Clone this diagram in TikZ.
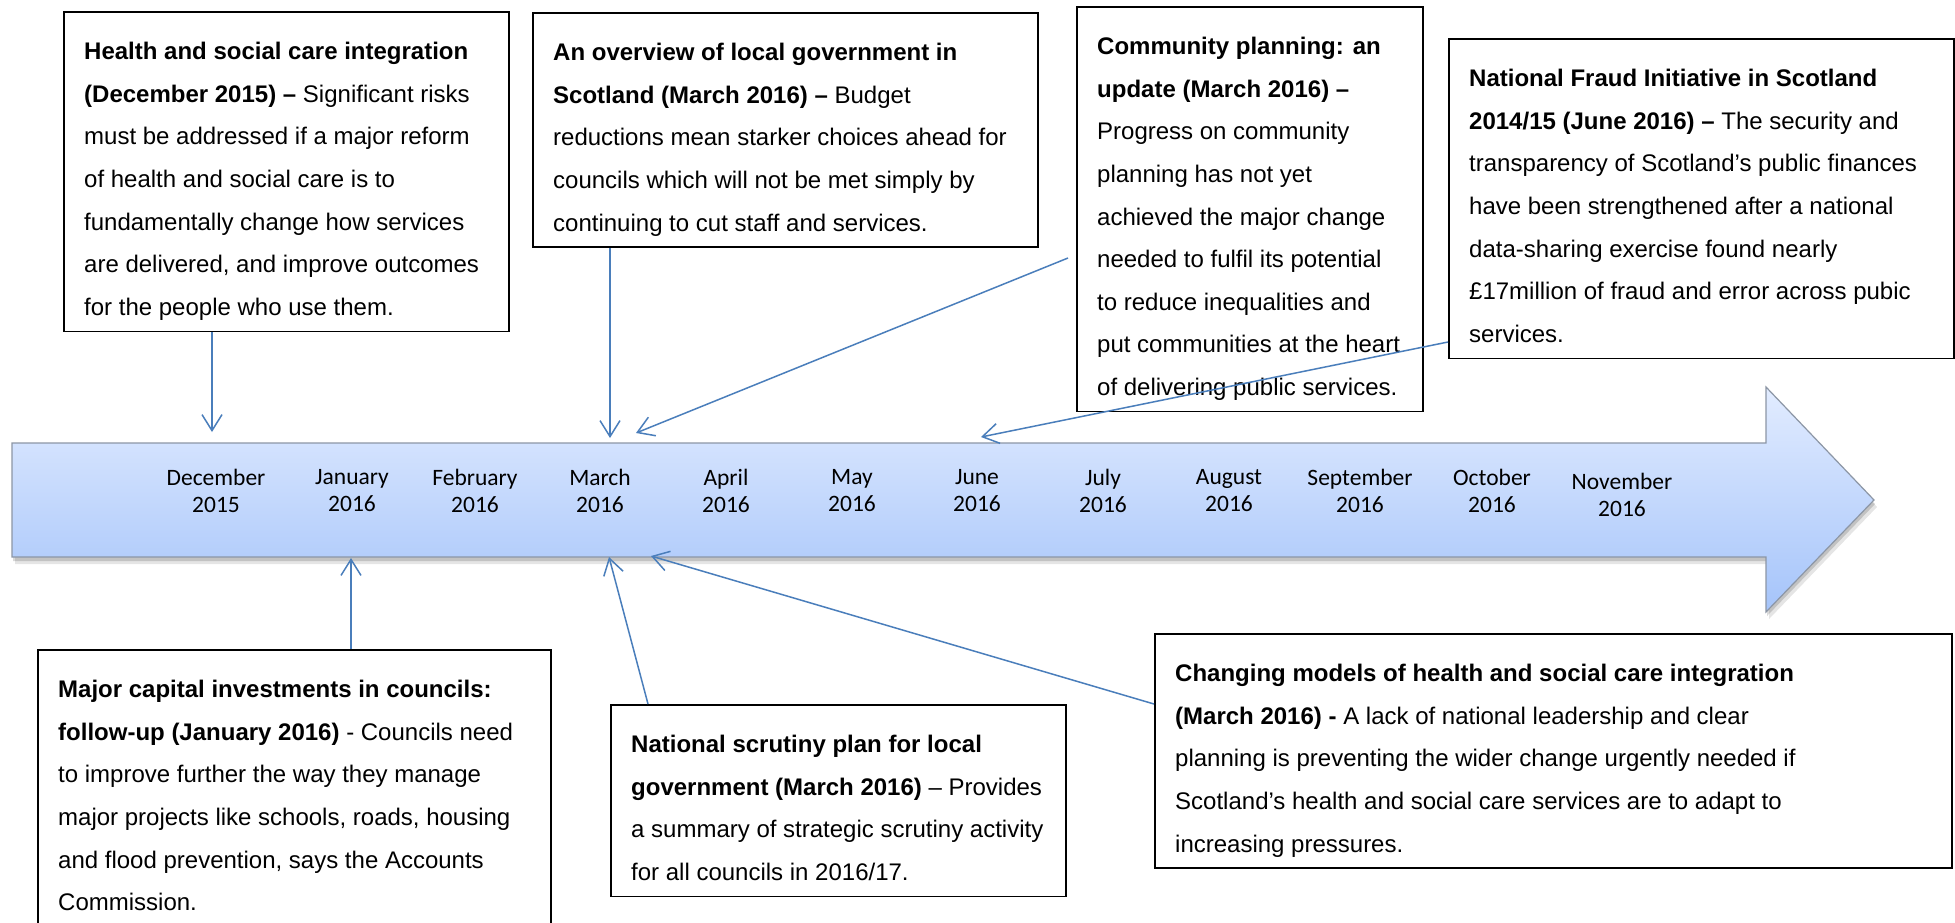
\documentclass[tikz,border=0pt]{standalone}
\usepackage{fontspec}
\setmainfont{Liberation Sans}
\newfontfamily\monthfont{Carlito}
\usetikzlibrary{arrows.meta,calc}
\definecolor{connblue}{RGB}{74,126,187}
\definecolor{arrtop}{RGB}{226,236,255}
\definecolor{arrbot}{RGB}{165,196,250}
\definecolor{arrborder}{RGB}{140,150,165}
\def\arrowpath{(12,443) -- (1766,443) -- (1766,387) -- (1874,500) -- (1766,612) -- (1766,557) -- (12,557) -- cycle}
\begin{document}
\begin{tikzpicture}[x=1pt,y=-1pt,
 tbox/.style={draw=black, line width=1.6pt, fill=white, inner sep=0pt, anchor=north west},
 ttext/.style={anchor=north west, inner sep=0pt, align=left, font=\fontsize{24}{42.6}\selectfont},
 month/.style={align=center, inner sep=0pt, font=\monthfont\fontsize{23.5}{27}\selectfont},
 conn/.style={draw=connblue, line width=1.5pt, -{Straight Barb[length=16pt,width=20pt]}}]

\useasboundingbox (0,0) rectangle (1955,922);
\fill[white] (0,0) rectangle (1955,922);
\clip (0,0) rectangle (1955,922);

% timeline arrow with soft shadow
\fill[black, opacity=0.10, shift={(3,7)}] \arrowpath;
\fill[black, opacity=0.15, shift={(1,4)}] \arrowpath;
\path[draw=arrborder, line width=1.2pt, top color=arrtop, bottom color=arrbot] \arrowpath;

% months
\node[month] (m1) at (216,491) {December\\2015};
\node[month] (m2) at (352,491) {January\\2016};
\node[month] (m3) at (475,491) {February\\2016};
\node[month] (m4) at (600,491) {March\\2016};
\node[month] (m5) at (726,491) {April\\2016};
\node[month] (m6) at (852,491) {May\\2016};
\node[month] (m7) at (977,491) {June\\2016};
\node[month] (m8) at (1103,491) {July\\2016};
\node[month] (m9) at (1229,491) {August\\2016};
\node[month] (m10) at (1360,491) {September\\2016};
\node[month] (m11) at (1492,491) {October\\2016};
\node[month] (m12) at (1622,495) {November\\2016};

% boxes
\node[tbox, minimum width=445, minimum height=319.6] (b1) at (63,11) {};
\node[ttext] (t1) at ($(b1.north west)+(21,30.5)$) {\rule{0pt}{18pt}\textbf{Health and social care integration}\\
\textbf{(December 2015) –} Significant risks\\
must be addressed if a major reform\\
of health and social care is to\\
fundamentally change how services\\
are delivered, and improve outcomes\\
for the people who use them.};

\node[tbox, minimum width=505, minimum height=234.4] (b2) at (532,12) {};
\node[ttext] (t2) at ($(b2.north west)+(21,30.5)$) {\rule{0pt}{18pt}\textbf{An overview of local government in}\\
\textbf{Scotland (March 2016) –} Budget\\
reductions mean starker choices ahead for\\
councils which will not be met simply by\\
continuing to cut staff and services.};

\node[tbox, minimum width=346, minimum height=404.8] (b3) at (1076,6) {};
\node[ttext] (t3) at ($(b3.north west)+(21,30.5)$) {\rule{0pt}{18pt}\textbf{Community planning: an}\\
\textbf{update (March 2016) –}\\
Progress on community\\
planning has not yet\\
achieved the major change\\
needed to fulfil its potential\\
to reduce inequalities and\\
put communities at the heart\\
of delivering public services.};

\node[tbox, minimum width=505, minimum height=319.6] (b4) at (1448,38) {};
\node[ttext] (t4) at ($(b4.north west)+(21,30.5)$) {\rule{0pt}{18pt}\textbf{National Fraud Initiative in Scotland}\\
\textbf{2014/15 (June 2016) –} The security and\\
transparency of Scotland’s public finances\\
have been strengthened after a national\\
data-sharing exercise found nearly\\
£17million of fraud and error across pubic\\
services.};

\node[tbox, minimum width=513, minimum height=277] (b5) at (37,649) {};
\node[ttext] (t5) at ($(b5.north west)+(21,30.5)$) {\rule{0pt}{18pt}\textbf{Major capital investments in councils:}\\
\textbf{follow-up (January 2016)} - Councils need\\
to improve further the way they manage\\
major projects like schools, roads, housing\\
and flood prevention, says the Accounts\\
Commission.};

\node[tbox, minimum width=455, minimum height=191.8] (b6) at (610,704) {};
\node[ttext] (t6) at ($(b6.north west)+(21,30.5)$) {\rule{0pt}{18pt}\textbf{National scrutiny plan for local}\\
\textbf{government (March 2016)} – Provides\\
a summary of strategic scrutiny activity\\
for all councils in 2016/17.};

\node[tbox, minimum width=797, minimum height=234.4] (b7) at (1154,633) {};
\node[ttext] (t7) at ($(b7.north west)+(21,30.5)$) {\rule{0pt}{18pt}\textbf{Changing models of health and social care integration}\\
\textbf{(March 2016) -} A lack of national leadership and clear\\
planning is preventing the wider change urgently needed if\\
Scotland’s health and social care services are to adapt to\\
increasing pressures.};

% connector end points
\coordinate (a1) at (212,432);
\coordinate (a2) at (610,438);
\coordinate (s3) at (1068,258);
\coordinate (a3) at (636,433);
\coordinate (s4) at (1448,342);
\coordinate (a4) at (981,437);
\coordinate (a5) at (351,558);
\coordinate (s6) at (648,704);
\coordinate (a6) at (609,557);
\coordinate (s7) at (1154,704);
\coordinate (a7) at (651,556);

% connectors
\draw[conn] (b1.south -| a1) -- (a1);
\draw[conn] (b2.south -| a2) -- (a2);
\draw[conn] (s3) -- (a3);
\draw[conn] (b4.west |- s4) -- (a4);
\draw[conn] (b5.north -| a5) -- (a5);
\draw[conn] (b6.north -| s6) -- (a6);
\draw[conn] (b7.west |- s7) -- (a7);
\end{tikzpicture}
\end{document}
